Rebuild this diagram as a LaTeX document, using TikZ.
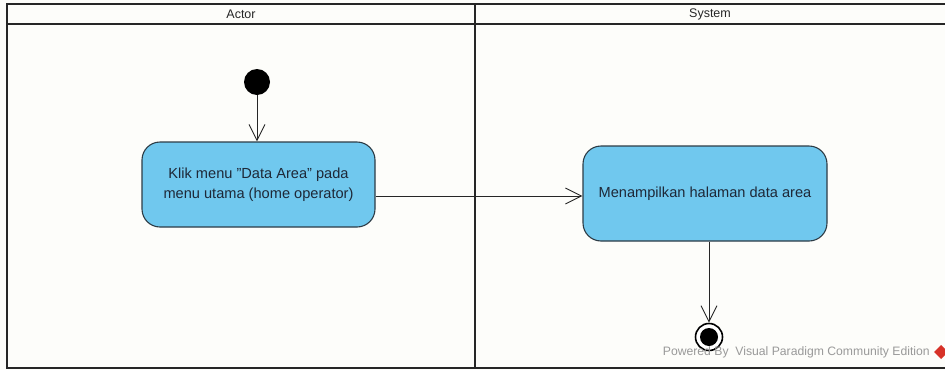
\documentclass[tikz,border=0pt]{standalone}
\usepackage{fontspec}
\setmainfont{Liberation Sans}
\usetikzlibrary{arrows.meta}
\definecolor{actfill}{RGB}{112,200,238}
\definecolor{actdraw}{RGB}{45,60,70}
\definecolor{acttext}{RGB}{30,40,55}
\definecolor{paper}{RGB}{253,253,250}
\definecolor{vplogo}{RGB}{215,50,40}
\begin{document}
\begin{tikzpicture}[x=1pt,y=-1pt,
  lane/.style={line width=2.2pt, draw=black!85},
  action/.style={draw=actdraw, line width=1.1pt, fill=actfill, rounded corners=18pt,
    align=center, font=\fontsize{14.6}{20}\selectfont, text=acttext, inner sep=0pt},
  flow/.style={draw=black!85, line width=0.9pt,
    -{Straight Barb[length=16pt,width=16pt,line width=0.9pt]}},
  lanetitle/.style={font=\fontsize{12.5}{14}\selectfont, text=black!85},
  startnode/.style={circle, fill=black, minimum size=26pt, inner sep=0pt},
  endnode/.style={circle, draw=black, line width=1.6pt, fill=white, minimum size=27pt, inner sep=0pt}
]
\useasboundingbox[fill=paper] (0,0) rectangle (945,370);

% swimlane frame
\draw[lane] (945,4) -- (7,4) -- (7,368) -- (945,368);
\draw[lane] (7,24) -- (945,24);
\draw[lane] (475,4) -- (475,368);
\node[lanetitle] (actorT) at (241,14) {Actor};
\node[lanetitle] (systemT) at (710,14) {System};

% activity nodes
\node[startnode] (init) at (257,82) {};
\node[action, minimum width=233pt, minimum height=85pt] (a1) at (258.5,184.5)
  {Klik menu "Data Area" pada\\menu utama (home operator)};
\node[action, minimum width=244pt, minimum height=95pt] (a2) at (705,193.5)
  {Menampilkan halaman data area};
\node[endnode] (fin) at (709,337) {};
\fill[black] (fin.center) circle (9pt);

% control flows
\draw[flow] (init) -- (init |- a1.north);
\draw[flow] (a1.east |- 0,196) -- (a2.west |- 0,196);
\draw[flow] (a2.south -| fin) -- (fin.north);

% tool credit
\node[anchor=east, text=black!40, font=\fontsize{12.2}{14}\selectfont, inner sep=0pt]
  (credit) at (930,352) {Powered By\ \ Visual Paradigm Community Edition};
\fill[vplogo] (941,345) -- (948,352) -- (941,359) -- (934,352) -- cycle;
\end{tikzpicture}
\end{document}
